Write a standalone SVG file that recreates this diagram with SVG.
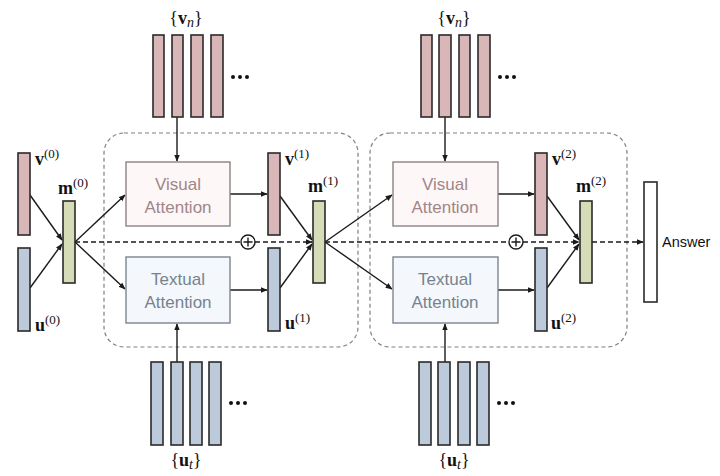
<svg xmlns="http://www.w3.org/2000/svg" width="720" height="476" viewBox="0 0 720 476">
<defs>
<style>
.pk{fill:#d9b6b8;stroke:#2a2a2a;stroke-width:1.6}
.bl{fill:#bccadb;stroke:#2a2a2a;stroke-width:1.6}
.gr{fill:#d7dcb8;stroke:#2a2a2a;stroke-width:1.6}
.wh{fill:#ffffff;stroke:#2a2a2a;stroke-width:1.6}
.va{fill:#fdf7f7;stroke:#8c8282;stroke-width:1.4}
.ta{fill:#f4f7fb;stroke:#7c8590;stroke-width:1.4}
.box{fill:none;stroke:#808080;stroke-width:1.2;stroke-dasharray:4 3}
.ln{stroke:#1a1a1a;stroke-width:1.4;fill:none}
.dl{stroke:#1a1a1a;stroke-width:1.6;fill:none;stroke-dasharray:5 3}
.vt{font-family:'Liberation Sans',Arial,sans-serif;font-size:17px;fill:#a08688;text-anchor:middle}
.tt{font-family:'Liberation Sans',Arial,sans-serif;font-size:17px;fill:#76838f;text-anchor:middle}
.lb{font-family:'Liberation Serif','DejaVu Serif',serif;font-size:18px;fill:#111}
.b{font-weight:bold}
.sup{font-size:13px}
.ans{font-family:'Liberation Sans',Arial,sans-serif;font-size:14.5px;fill:#111}
.dot{fill:#111}
</style>
<marker id="ah" viewBox="0 0 10 10" refX="9" refY="5" markerWidth="7" markerHeight="7" orient="auto" markerUnits="userSpaceOnUse">
<path d="M0,1 L10,5 L0,9 z" fill="#1a1a1a"/>
</marker>
</defs>
<rect width="720" height="476" fill="#ffffff"/>

<g id="hop1">
<rect class="box" x="104" y="133" width="254" height="214" rx="20"/>
</g>
<g id="hop2">
<rect class="box" x="370" y="133" width="257" height="214" rx="20"/>
</g>

<g id="connectors">
<line class="ln" x1="30" y1="195" x2="62" y2="240" marker-end="url(#ah)"/>
<line class="ln" x1="30" y1="288" x2="62" y2="244" marker-end="url(#ah)"/>
<line class="ln" x1="75" y1="242" x2="125" y2="195" marker-end="url(#ah)"/>
<line class="ln" x1="75" y1="242" x2="125" y2="289" marker-end="url(#ah)"/>
<line class="ln" x1="177" y1="117" x2="177" y2="161" marker-end="url(#ah)"/>
<line class="ln" x1="177" y1="362" x2="177" y2="324" marker-end="url(#ah)"/>
<line class="ln" x1="230" y1="194" x2="267" y2="194" marker-end="url(#ah)"/>
<line class="ln" x1="230" y1="290" x2="267" y2="290" marker-end="url(#ah)"/>
<line class="ln" x1="280" y1="196" x2="312" y2="240" marker-end="url(#ah)"/>
<line class="ln" x1="280" y1="288" x2="312" y2="244" marker-end="url(#ah)"/>
<line class="ln" x1="325" y1="242" x2="392" y2="195" marker-end="url(#ah)"/>
<line class="ln" x1="325" y1="242" x2="392" y2="289" marker-end="url(#ah)"/>
<line class="ln" x1="445" y1="117" x2="445" y2="161" marker-end="url(#ah)"/>
<line class="ln" x1="445" y1="362" x2="445" y2="324" marker-end="url(#ah)"/>
<line class="ln" x1="498" y1="194" x2="534" y2="194" marker-end="url(#ah)"/>
<line class="ln" x1="498" y1="290" x2="534" y2="290" marker-end="url(#ah)"/>
<line class="ln" x1="547" y1="196" x2="579" y2="240" marker-end="url(#ah)"/>
<line class="ln" x1="547" y1="288" x2="579" y2="244" marker-end="url(#ah)"/>
<line class="dl" x1="75" y1="242" x2="241" y2="242"/>
<line class="dl" x1="255" y1="242" x2="312" y2="242" marker-end="url(#ah)"/>
<line class="dl" x1="325" y1="242" x2="509" y2="242"/>
<line class="dl" x1="523" y1="242" x2="579" y2="242" marker-end="url(#ah)"/>
<line class="dl" x1="592" y1="242" x2="643" y2="242" marker-end="url(#ah)"/>
</g>

<g id="plus1">
<circle cx="248" cy="242" r="7" fill="#fff" stroke="#1a1a1a" stroke-width="1.4"/>
<path d="M243.5,242 H252.5 M248,237.5 V246.5" stroke="#1a1a1a" stroke-width="1.4"/>
</g>
<g id="plus2">
<circle cx="516" cy="242" r="7" fill="#fff" stroke="#1a1a1a" stroke-width="1.4"/>
<path d="M511.5,242 H520.5 M516,237.5 V246.5" stroke="#1a1a1a" stroke-width="1.4"/>
</g>

<g id="v0">
<rect class="pk" x="18" y="153" width="12" height="82"/>
<text class="lb" x="35" y="165"><tspan class="b">v</tspan><tspan class="sup" dy="-7">(0)</tspan></text>
</g>
<g id="u0">
<rect class="bl" x="18" y="248" width="12" height="83"/>
<text class="lb" x="35" y="331"><tspan class="b">u</tspan><tspan class="sup" dy="-7">(0)</tspan></text>
</g>
<g id="m0">
<rect class="gr" x="63" y="201" width="12" height="82"/>
<text class="lb" x="58" y="194"><tspan class="b">m</tspan><tspan class="sup" dy="-7">(0)</tspan></text>
</g>

<g id="vn1">
<rect class="pk" x="153" y="35" width="11" height="82"/>
<rect class="pk" x="172" y="35" width="11" height="82"/>
<rect class="pk" x="191" y="35" width="12" height="82"/>
<rect class="pk" x="211" y="35" width="12" height="82"/>
<circle class="dot" cx="233" cy="77" r="2"/><circle class="dot" cx="240" cy="77" r="2"/><circle class="dot" cx="247" cy="77" r="2"/>
<text class="lb" x="186" y="24" text-anchor="middle">{<tspan class="b">v</tspan><tspan font-style="italic" font-size="14" dy="3">n</tspan><tspan dy="-3">}</tspan></text>
</g>
<g id="ut1">
<rect class="bl" x="151" y="362" width="12" height="83"/>
<rect class="bl" x="171" y="362" width="12" height="83"/>
<rect class="bl" x="190" y="362" width="12" height="83"/>
<rect class="bl" x="209" y="362" width="12" height="83"/>
<circle class="dot" cx="231" cy="403" r="2"/><circle class="dot" cx="238" cy="403" r="2"/><circle class="dot" cx="245" cy="403" r="2"/>
<text class="lb" x="186" y="466" text-anchor="middle">{<tspan class="b">u</tspan><tspan font-style="italic" font-size="14" dy="3">t</tspan><tspan dy="-3">}</tspan></text>
</g>

<g id="visual1">
<rect class="va" x="126" y="162" width="104" height="64"/>
<text class="vt" x="178" y="190">Visual</text>
<text class="vt" x="178" y="213">Attention</text>
</g>
<g id="textual1">
<rect class="ta" x="126" y="257" width="104" height="66"/>
<text class="tt" x="178" y="285">Textual</text>
<text class="tt" x="178" y="308">Attention</text>
</g>
<g id="v1">
<rect class="pk" x="268" y="153" width="12" height="82"/>
<text class="lb" x="285" y="165"><tspan class="b">v</tspan><tspan class="sup" dy="-7">(1)</tspan></text>
</g>
<g id="u1">
<rect class="bl" x="268" y="248" width="12" height="83"/>
<text class="lb" x="285" y="329"><tspan class="b">u</tspan><tspan class="sup" dy="-7">(1)</tspan></text>
</g>
<g id="m1">
<rect class="gr" x="313" y="201" width="12" height="82"/>
<text class="lb" x="308" y="192"><tspan class="b">m</tspan><tspan class="sup" dy="-7">(1)</tspan></text>
</g>

<g id="vn2">
<rect class="pk" x="421" y="35" width="11" height="82"/>
<rect class="pk" x="439" y="35" width="12" height="82"/>
<rect class="pk" x="459" y="35" width="11" height="82"/>
<rect class="pk" x="478" y="35" width="12" height="82"/>
<circle class="dot" cx="500" cy="77" r="2"/><circle class="dot" cx="507" cy="77" r="2"/><circle class="dot" cx="514" cy="77" r="2"/>
<text class="lb" x="454" y="24" text-anchor="middle">{<tspan class="b">v</tspan><tspan font-style="italic" font-size="14" dy="3">n</tspan><tspan dy="-3">}</tspan></text>
</g>
<g id="ut2">
<rect class="bl" x="419" y="362" width="12" height="83"/>
<rect class="bl" x="438" y="362" width="12" height="83"/>
<rect class="bl" x="458" y="362" width="12" height="83"/>
<rect class="bl" x="477" y="362" width="12" height="83"/>
<circle class="dot" cx="499" cy="403" r="2"/><circle class="dot" cx="506" cy="403" r="2"/><circle class="dot" cx="513" cy="403" r="2"/>
<text class="lb" x="454" y="466" text-anchor="middle">{<tspan class="b">u</tspan><tspan font-style="italic" font-size="14" dy="3">t</tspan><tspan dy="-3">}</tspan></text>
</g>

<g id="visual2">
<rect class="va" x="393" y="162" width="105" height="64"/>
<text class="vt" x="445" y="190">Visual</text>
<text class="vt" x="445" y="213">Attention</text>
</g>
<g id="textual2">
<rect class="ta" x="393" y="257" width="105" height="66"/>
<text class="tt" x="445" y="285">Textual</text>
<text class="tt" x="445" y="308">Attention</text>
</g>
<g id="v2">
<rect class="pk" x="535" y="153" width="12" height="82"/>
<text class="lb" x="552" y="165"><tspan class="b">v</tspan><tspan class="sup" dy="-7">(2)</tspan></text>
</g>
<g id="u2">
<rect class="bl" x="535" y="248" width="12" height="83"/>
<text class="lb" x="551" y="329"><tspan class="b">u</tspan><tspan class="sup" dy="-7">(2)</tspan></text>
</g>
<g id="m2">
<rect class="gr" x="580" y="201" width="12" height="82"/>
<text class="lb" x="576" y="192"><tspan class="b">m</tspan><tspan class="sup" dy="-7">(2)</tspan></text>
</g>
<g id="answer">
<rect class="wh" x="644" y="182" width="13" height="120"/>
<text class="ans" x="662" y="247">Answer</text>
</g>
</svg>
